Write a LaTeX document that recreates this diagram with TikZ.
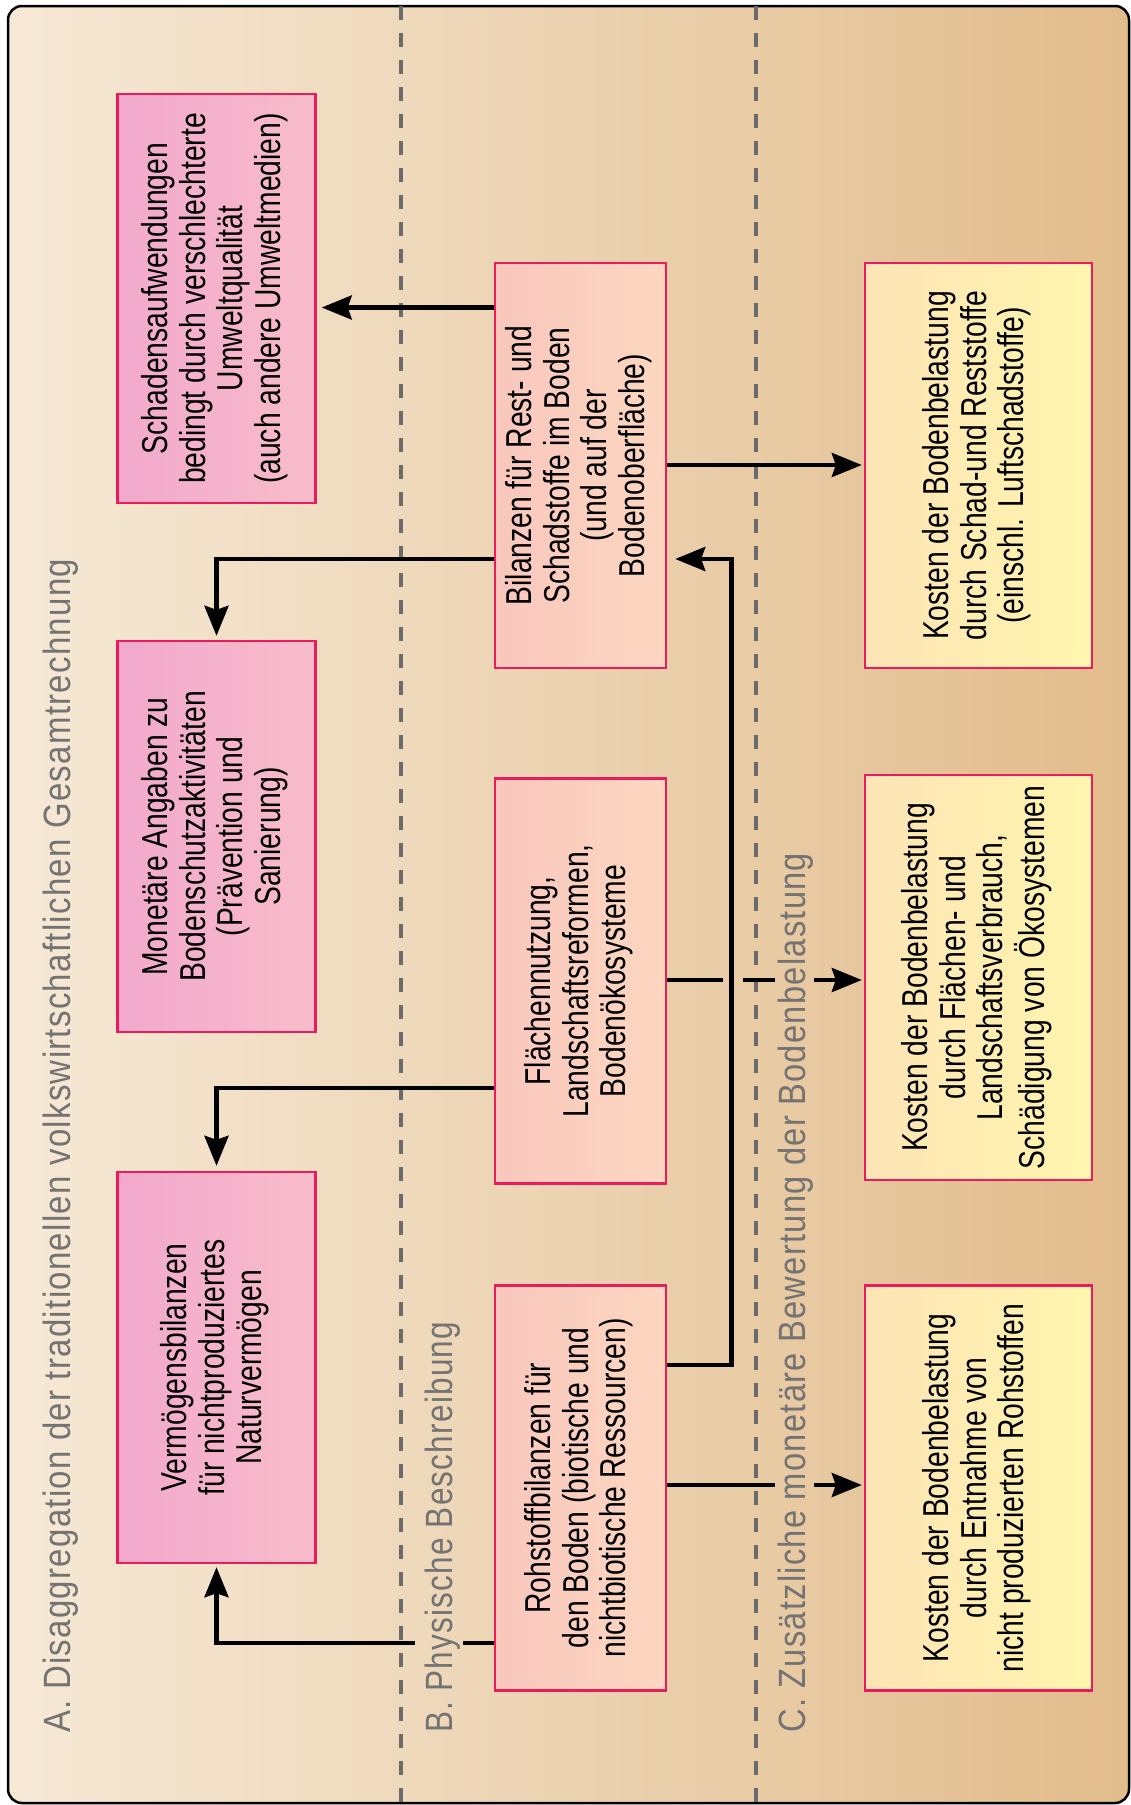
\documentclass[tikz,border=0pt]{standalone}
\usepackage{graphicx}
\usepackage{fontspec}
\usetikzlibrary{arrows.meta}
\setmainfont{Liberation Sans}
\newfontfamily\boxfont[FakeStretch=0.785]{Liberation Sans}
\newfontfamily\lanefont[LetterSpace=4]{Liberation Sans}
\definecolor{bgL}{HTML}{F6E9D6}
\definecolor{bgR}{HTML}{E2BC8C}
\definecolor{aL}{HTML}{F2A9CC}
\definecolor{aR}{HTML}{F8BCCB}
\definecolor{bL}{HTML}{F9C7BD}
\definecolor{bR}{HTML}{FCD7C0}
\definecolor{cL}{HTML}{FDE4B6}
\definecolor{cR}{HTML}{FFF6AE}
\definecolor{boxborder}{HTML}{EC1C5C}
\definecolor{lanegray}{HTML}{737373}
\definecolor{dashgray}{HTML}{6B6B6B}
\newcommand{\rt}[1]{\rotatebox{90}{\begin{tabular}{@{}c@{}}#1\end{tabular}}}
\tikzset{
  box/.style={draw=boxborder, line width=2.4pt, inner sep=0pt,
    font={\boxfont\fontsize{36}{37.5}\selectfont}},
  boxA/.style={box, left color=aL, right color=aR, minimum width=198pt},
  boxB/.style={box, left color=bL, right color=bR, minimum width=171pt},
  boxC/.style={box, left color=cL, right color=cR, minimum width=227pt},
  lane/.style={inner sep=0pt, text=lanegray, rotate=90, anchor=base west,
    font={\lanefont\fontsize{38}{40}\selectfont}},
  lanedash/.style={dashgray, line width=4pt, dash pattern=on 14pt off 13pt},
  conn/.style={line width=4.3pt, -{Stealth[length=30pt,width=24pt,inset=4pt]}}
}
\begin{document}
\begin{tikzpicture}[x=1pt,y=-1pt]
\useasboundingbox (0,0) rectangle (1131,1805);
% frame
\draw[rounded corners=14pt, line width=2.5pt, left color=bgL, right color=bgR]
  (8,6) rectangle (1129,1803);
% lane separators
\coordinate (s1t) at (401,6);   \coordinate (s1b) at (401,1803);
\coordinate (s2t) at (756,6);   \coordinate (s2b) at (756,1803);
\draw[lanedash] (s1t) -- (s1b);
\draw[lanedash] (s2t) -- (s2b);
% lane labels
\node[lane] (lA) at (70,1733) {\resizebox{1174pt}{\height}{A. Disaggregation der traditionellen volkswirtschaftlichen Gesamtrechnung}};
\node[lane] (lB) at (452,1733) {\resizebox{411pt}{\height}{B. Physische Beschreibung}};
\node[lane] (lC) at (805,1733) {\resizebox{880pt}{\height}{C. Zusätzliche monetäre Bewertung der Bodenbelastung}};
% column A
\node[boxA, minimum height=409pt] (A1) at (216.5,298.5)
  {\rt{Schadensaufwendungen\\bedingt durch verschlechterte\\Umweltqualität\\(auch andere Umweltmedien)}};
\node[boxA, minimum height=391pt] (A2) at (216.5,836.5)
  {\rt{Monetäre Angaben zu\\Bodenschutzaktivitäten\\(Prävention und\\Sanierung)}};
\node[boxA, minimum height=391pt] (A3) at (216.5,1367.5)
  {\rt{Vermögensbilanzen\\für nichtproduziertes\\Naturvermögen}};
% column B
\node[boxB, minimum height=405pt] (B1) at (580.5,465.5)
  {\rt{Bilanzen für Rest- und\\Schadstoffe im Boden\\(und auf der\\Bodenoberfläche)}};
\node[boxB, minimum height=405pt] (B2) at (580.5,981)
  {\rt{Flächennutzung,\\Landschaftsreformen,\\Bodenökosysteme}};
\node[boxB, minimum height=405pt] (B3) at (580.5,1488)
  {\rt{Rohstoffbilanzen für\\den Boden (biotische und\\nichtbiotische Ressourcen)}};
% column C
\node[boxC, minimum height=405pt] (C1) at (978.5,465.5)
  {\rt{Kosten der Bodenbelastung\\durch Schad-und Reststoffe\\(einschl. Luftschadstoffe)}};
\node[boxC, minimum height=405pt] (C2) at (978.5,977.5)
  {\rt{Kosten der Bodenbelastung\\durch Flächen- und\\Landschaftsverbrauch,\\Schädigung von Ökosystemen}};
\node[boxC, minimum height=405pt] (C3) at (978.5,1488)
  {\rt{Kosten der Bodenbelastung\\durch Entnahme von\\nicht produzierten Rohstoffen}};
% connectors
\coordinate (bend) at (731.5,559);
\draw[conn, shorten >=5pt] (B1.west |- 0,307.5) -- (A1.east |- 0,307.5);
\draw[conn, shorten >=4pt] (B1.west |- 0,559) -| (A2.north);
\draw[conn, shorten >=2pt] (B1.east |- 0,465) -- (C1.west |- 0,465);
\draw[conn, shorten >=8pt] (B3.east |- 0,1365) -| (bend) -- (B1.east |- bend);
\draw[conn, shorten >=5pt] (B2.west |- 0,1088) -| (A3.north);
\draw[conn, shorten >=2pt, dash pattern=on 56pt off 20pt on 32pt off 39pt on 300pt]
  (B2.east |- 0,980) -- (C2.west |- 0,980);
\draw[conn, shorten >=2pt, dash pattern=on 108pt off 39pt on 300pt]
  (B3.east |- 0,1485) -- (C3.west |- 0,1485);
\draw[conn, shorten >=3pt, dash pattern=on 31pt off 48pt on 600pt]
  (B3.west |- 0,1643) -| (A3.south);
\end{tikzpicture}
\end{document}
